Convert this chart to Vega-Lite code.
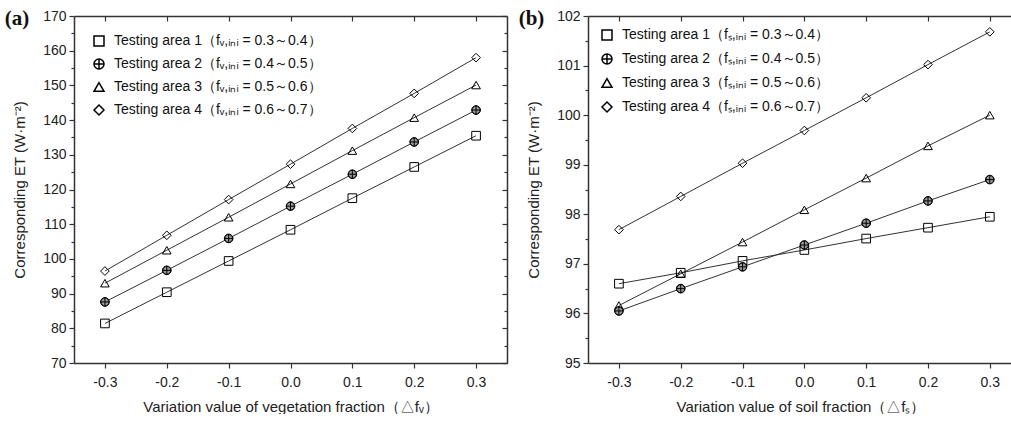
{
  "$schema": "https://vega.github.io/schema/vega-lite/v6.json",
  "padding": {"left": 4, "top": 8, "right": 0, "bottom": 0},
  "spacing": 10,
  "datasets": {
    "a": [
      {"s": "Testing area 1（fᵥ,ᵢₙᵢ = 0.3～0.4）", "x": -0.3, "y": 81.4},
      {"s": "Testing area 1（fᵥ,ᵢₙᵢ = 0.3～0.4）", "x": -0.2, "y": 90.4},
      {"s": "Testing area 1（fᵥ,ᵢₙᵢ = 0.3～0.4）", "x": -0.1, "y": 99.4},
      {"s": "Testing area 1（fᵥ,ᵢₙᵢ = 0.3～0.4）", "x": 0.0, "y": 108.4},
      {"s": "Testing area 1（fᵥ,ᵢₙᵢ = 0.3～0.4）", "x": 0.1, "y": 117.5},
      {"s": "Testing area 1（fᵥ,ᵢₙᵢ = 0.3～0.4）", "x": 0.2, "y": 126.5},
      {"s": "Testing area 1（fᵥ,ᵢₙᵢ = 0.3～0.4）", "x": 0.3, "y": 135.5},
      {"s": "Testing area 2（fᵥ,ᵢₙᵢ = 0.4～0.5）", "x": -0.3, "y": 87.6},
      {"s": "Testing area 2（fᵥ,ᵢₙᵢ = 0.4～0.5）", "x": -0.2, "y": 96.7},
      {"s": "Testing area 2（fᵥ,ᵢₙᵢ = 0.4～0.5）", "x": -0.1, "y": 105.9},
      {"s": "Testing area 2（fᵥ,ᵢₙᵢ = 0.4～0.5）", "x": 0.0, "y": 115.2},
      {"s": "Testing area 2（fᵥ,ᵢₙᵢ = 0.4～0.5）", "x": 0.1, "y": 124.4},
      {"s": "Testing area 2（fᵥ,ᵢₙᵢ = 0.4～0.5）", "x": 0.2, "y": 133.7},
      {"s": "Testing area 2（fᵥ,ᵢₙᵢ = 0.4～0.5）", "x": 0.3, "y": 142.9},
      {"s": "Testing area 3（fᵥ,ᵢₙᵢ = 0.5～0.6）", "x": -0.3, "y": 93.0},
      {"s": "Testing area 3（fᵥ,ᵢₙᵢ = 0.5～0.6）", "x": -0.2, "y": 102.5},
      {"s": "Testing area 3（fᵥ,ᵢₙᵢ = 0.5～0.6）", "x": -0.1, "y": 112.0},
      {"s": "Testing area 3（fᵥ,ᵢₙᵢ = 0.5～0.6）", "x": 0.0, "y": 121.6},
      {"s": "Testing area 3（fᵥ,ᵢₙᵢ = 0.5～0.6）", "x": 0.1, "y": 131.2},
      {"s": "Testing area 3（fᵥ,ᵢₙᵢ = 0.5～0.6）", "x": 0.2, "y": 140.7},
      {"s": "Testing area 3（fᵥ,ᵢₙᵢ = 0.5～0.6）", "x": 0.3, "y": 150.1},
      {"s": "Testing area 4（fᵥ,ᵢₙᵢ = 0.6～0.7）", "x": -0.3, "y": 96.5},
      {"s": "Testing area 4（fᵥ,ᵢₙᵢ = 0.6～0.7）", "x": -0.2, "y": 106.8},
      {"s": "Testing area 4（fᵥ,ᵢₙᵢ = 0.6～0.7）", "x": -0.1, "y": 117.1},
      {"s": "Testing area 4（fᵥ,ᵢₙᵢ = 0.6～0.7）", "x": 0.0, "y": 127.3},
      {"s": "Testing area 4（fᵥ,ᵢₙᵢ = 0.6～0.7）", "x": 0.1, "y": 137.6},
      {"s": "Testing area 4（fᵥ,ᵢₙᵢ = 0.6～0.7）", "x": 0.2, "y": 147.7},
      {"s": "Testing area 4（fᵥ,ᵢₙᵢ = 0.6～0.7）", "x": 0.3, "y": 158.0}
    ],
    "b": [
      {"s": "Testing area 1（fₛ,ᵢₙᵢ = 0.3～0.4）", "x": -0.3, "y": 96.60},
      {"s": "Testing area 1（fₛ,ᵢₙᵢ = 0.3～0.4）", "x": -0.2, "y": 96.82},
      {"s": "Testing area 1（fₛ,ᵢₙᵢ = 0.3～0.4）", "x": -0.1, "y": 97.06},
      {"s": "Testing area 1（fₛ,ᵢₙᵢ = 0.3～0.4）", "x": 0.0, "y": 97.28},
      {"s": "Testing area 1（fₛ,ᵢₙᵢ = 0.3～0.4）", "x": 0.1, "y": 97.51},
      {"s": "Testing area 1（fₛ,ᵢₙᵢ = 0.3～0.4）", "x": 0.2, "y": 97.73},
      {"s": "Testing area 1（fₛ,ᵢₙᵢ = 0.3～0.4）", "x": 0.3, "y": 97.95},
      {"s": "Testing area 2（fₛ,ᵢₙᵢ = 0.4～0.5）", "x": -0.3, "y": 96.05},
      {"s": "Testing area 2（fₛ,ᵢₙᵢ = 0.4～0.5）", "x": -0.2, "y": 96.50},
      {"s": "Testing area 2（fₛ,ᵢₙᵢ = 0.4～0.5）", "x": -0.1, "y": 96.94},
      {"s": "Testing area 2（fₛ,ᵢₙᵢ = 0.4～0.5）", "x": 0.0, "y": 97.38},
      {"s": "Testing area 2（fₛ,ᵢₙᵢ = 0.4～0.5）", "x": 0.1, "y": 97.82},
      {"s": "Testing area 2（fₛ,ᵢₙᵢ = 0.4～0.5）", "x": 0.2, "y": 98.27},
      {"s": "Testing area 2（fₛ,ᵢₙᵢ = 0.4～0.5）", "x": 0.3, "y": 98.70},
      {"s": "Testing area 3（fₛ,ᵢₙᵢ = 0.5～0.6）", "x": -0.3, "y": 96.16},
      {"s": "Testing area 3（fₛ,ᵢₙᵢ = 0.5～0.6）", "x": -0.2, "y": 96.80},
      {"s": "Testing area 3（fₛ,ᵢₙᵢ = 0.5～0.6）", "x": -0.1, "y": 97.44},
      {"s": "Testing area 3（fₛ,ᵢₙᵢ = 0.5～0.6）", "x": 0.0, "y": 98.09},
      {"s": "Testing area 3（fₛ,ᵢₙᵢ = 0.5～0.6）", "x": 0.1, "y": 98.73},
      {"s": "Testing area 3（fₛ,ᵢₙᵢ = 0.5～0.6）", "x": 0.2, "y": 99.38},
      {"s": "Testing area 3（fₛ,ᵢₙᵢ = 0.5～0.6）", "x": 0.3, "y": 100.00},
      {"s": "Testing area 4（fₛ,ᵢₙᵢ = 0.6～0.7）", "x": -0.3, "y": 97.69},
      {"s": "Testing area 4（fₛ,ᵢₙᵢ = 0.6～0.7）", "x": -0.2, "y": 98.36},
      {"s": "Testing area 4（fₛ,ᵢₙᵢ = 0.6～0.7）", "x": -0.1, "y": 99.03},
      {"s": "Testing area 4（fₛ,ᵢₙᵢ = 0.6～0.7）", "x": 0.0, "y": 99.69},
      {"s": "Testing area 4（fₛ,ᵢₙᵢ = 0.6～0.7）", "x": 0.1, "y": 100.35},
      {"s": "Testing area 4（fₛ,ᵢₙᵢ = 0.6～0.7）", "x": 0.2, "y": 101.02},
      {"s": "Testing area 4（fₛ,ᵢₙᵢ = 0.6～0.7）", "x": 0.3, "y": 101.68}
    ]
  },
  "resolve": {"scale": {"shape": "independent"}, "legend": {"shape": "independent"}},
  "hconcat": [
    {
      "width": 433,
      "height": 347,
      "data": {"name": "a"},
      "title": {"text": "(a)", "anchor": "start", "frame": "bounds", "font": "Liberation Serif", "fontSize": 21, "fontWeight": "bold", "color": "#111", "dy": 20, "dx": -8, "offset": 0},
      "resolve": {"axis": {"x": "independent", "y": "independent"}},
      "layer": [
        {
          "mark": {"type": "line", "color": "#333", "strokeWidth": 1},
          "encoding": {
            "x": {"field": "x", "type": "quantitative", "scale": {"domain": [-0.35, 0.35], "nice": false, "zero": false},
              "axis": {"orient": "bottom", "values": [-0.3, -0.2, -0.1, 0, 0.1, 0.2, 0.3], "labelExpr": "replace(format(datum.value, '.1f'), '−', '-')", "tickSize": 5, "labelPadding": 7, "title": "Variation value of vegetation fraction（△fᵥ）", "titlePadding": 10}},
            "y": {"field": "y", "type": "quantitative", "scale": {"domain": [70, 170], "nice": false, "zero": false},
              "axis": {"orient": "left", "values": [70, 75, 80, 85, 90, 95, 100, 105, 110, 115, 120, 125, 130, 135, 140, 145, 150, 155, 160, 165, 170], "labelExpr": "datum.value % 10 === 0 ? format(datum.value, 'd') : ''", "tickSize": {"condition": {"test": "datum.value % 10 === 0", "value": 5}, "value": 3}, "labelPadding": 3, "title": "Corresponding ET (W·m⁻²)", "titlePadding": 15}},
            "detail": {"field": "s"}
          }
        },
        {
          "mark": {"type": "point", "filled": false, "opacity": 1, "color": "black", "strokeWidth": 1, "size": 75},
          "encoding": {
            "x": {"field": "x", "type": "quantitative",
              "axis": {"orient": "top", "values": [-0.3, -0.2, -0.1, 0, 0.1, 0.2, 0.3], "labels": false, "tickSize": -5, "title": null}},
            "y": {"field": "y", "type": "quantitative",
              "axis": {"orient": "right", "values": [70, 75, 80, 85, 90, 95, 100, 105, 110, 115, 120, 125, 130, 135, 140, 145, 150, 155, 160, 165, 170], "labels": false, "tickSize": {"condition": {"test": "datum.value % 10 === 0", "value": -5}, "value": -3}, "title": null}},
            "shape": {"field": "s", "type": "nominal",
              "scale": {"range": ["square", "M-1,0A1,1,0,1,1,1,0A1,1,0,1,1,-1,0ZM-1,0H1M0,-1V1", "triangle-up", "diamond"]},
              "legend": {"orient": "top-left", "offset": 18, "title": null, "labelOffset": 8, "rowPadding": 7, "labelFontSize": 14, "labelLimit": 0, "symbolStrokeColor": "black"}}
          }
        },
        {
          "transform": [{"filter": "datum.s[13] === '2'"}],
          "mark": {"type": "point", "filled": true, "fill": "#9a9a9a", "opacity": 1, "stroke": "black", "strokeWidth": 1, "size": 64, "shape": "M-1,0A1,1,0,1,1,1,0A1,1,0,1,1,-1,0ZM-1,0H1M0,-1V1"},
          "encoding": {
            "x": {"field": "x", "type": "quantitative", "axis": null},
            "y": {"field": "y", "type": "quantitative", "axis": null}
          }
        }
      ]
    },
    {
      "width": 425,
      "height": 347,
      "data": {"name": "b"},
      "title": {"text": "(b)", "anchor": "start", "frame": "bounds", "font": "Liberation Serif", "fontSize": 21, "fontWeight": "bold", "color": "#111", "dy": 20, "dx": -8, "offset": 0},
      "resolve": {"axis": {"x": "independent", "y": "independent"}},
      "layer": [
        {
          "mark": {"type": "line", "color": "#333", "strokeWidth": 1},
          "encoding": {
            "x": {"field": "x", "type": "quantitative", "scale": {"domain": [-0.35, 0.3375], "nice": false, "zero": false},
              "axis": {"orient": "bottom", "values": [-0.3, -0.2, -0.1, 0, 0.1, 0.2, 0.3], "labelExpr": "replace(format(datum.value, '.1f'), '−', '-')", "tickSize": 5, "labelPadding": 7, "title": "Variation value of soil fraction（△fₛ）", "titlePadding": 10}},
            "y": {"field": "y", "type": "quantitative", "scale": {"domain": [95, 102], "nice": false, "zero": false},
              "axis": {"orient": "left", "values": [95, 95.5, 96, 96.5, 97, 97.5, 98, 98.5, 99, 99.5, 100, 100.5, 101, 101.5, 102], "labelExpr": "datum.value % 1 === 0 ? format(datum.value, 'd') : ''", "tickSize": {"condition": {"test": "datum.value % 1 === 0", "value": 5}, "value": 3}, "labelPadding": 3, "title": "Corresponding ET (W·m⁻²)", "titlePadding": 15}},
            "detail": {"field": "s"}
          }
        },
        {
          "mark": {"type": "point", "filled": false, "opacity": 1, "color": "black", "strokeWidth": 1, "size": 75},
          "encoding": {
            "x": {"field": "x", "type": "quantitative",
              "axis": {"orient": "top", "values": [-0.3, -0.2, -0.1, 0, 0.1, 0.2, 0.3], "labels": false, "tickSize": -5, "title": null}},
            "y": {"field": "y", "type": "quantitative", "axis": null},
            "shape": {"field": "s", "type": "nominal",
              "scale": {"range": ["square", "M-1,0A1,1,0,1,1,1,0A1,1,0,1,1,-1,0ZM-1,0H1M0,-1V1", "triangle-up", "diamond"]},
              "legend": {"orient": "top-left", "offset": 12, "title": null, "labelOffset": 8, "rowPadding": 8, "labelFontSize": 14, "labelLimit": 0, "symbolStrokeColor": "black"}}
          }
        },
        {
          "transform": [{"filter": "datum.s[13] === '2'"}],
          "mark": {"type": "point", "filled": true, "fill": "#9a9a9a", "opacity": 1, "stroke": "black", "strokeWidth": 1, "size": 64, "shape": "M-1,0A1,1,0,1,1,1,0A1,1,0,1,1,-1,0ZM-1,0H1M0,-1V1"},
          "encoding": {
            "x": {"field": "x", "type": "quantitative", "axis": null},
            "y": {"field": "y", "type": "quantitative", "axis": null}
          }
        }
      ]
    }
  ],
  "config": {
    "font": "Liberation Sans",
    "view": {"stroke": null},
    "axis": {
      "grid": false,
      "labelFont": "Liberation Sans",
      "labelFontSize": 14,
      "labelColor": "#222",
      "titleFont": "Liberation Sans",
      "titleFontSize": 15,
      "titleFontWeight": "normal",
      "titleColor": "#222",
      "domainColor": "#333",
      "domainWidth": 1.5,
      "tickColor": "#333",
      "tickWidth": 1.2
    },
    "legend": {"labelFont": "Liberation Sans", "labelColor": "#111"}
  }
}
